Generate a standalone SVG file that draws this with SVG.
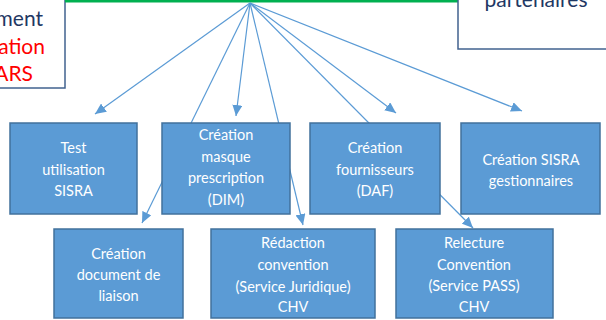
<svg xmlns="http://www.w3.org/2000/svg" width="606" height="320" viewBox="0 0 606 320">
<defs>
<marker id="ah" markerUnits="userSpaceOnUse" markerWidth="12" markerHeight="10" refX="11" refY="5" orient="auto">
<path d="M0,0 L11,5 L0,10 Z" fill="#5B9BD5"/>
</marker>
</defs>
<style>
.box{fill:#5B9BD5;stroke:#41719C;stroke-width:1.5}
.frame{fill:#FFFFFF;stroke:#41628F;stroke-width:1.5}
.t{font-family:Lato,"Liberation Sans",sans-serif;font-size:14.5px;fill:#FFFFFF;text-anchor:middle}
.big{font-family:Lato,"Liberation Sans",sans-serif;font-size:21px}
.conn{stroke:#5B9BD5;stroke-width:1.2;fill:none}
</style>
<rect x="0" y="0" width="606" height="320" fill="#FFFFFF"/>
<g id="top-left">
<rect class="frame" x="-10" y="-10" width="75" height="98"/>
<text class="big" x="43" y="26" text-anchor="end" fill="#1F3864">ment</text>
<text class="big" x="45" y="54" text-anchor="end" fill="#FF0000">ation</text>
<text class="big" x="33" y="81" text-anchor="end" fill="#FF0000">ARS</text>
</g>
<g id="top-center">
<line x1="65" y1="1" x2="458" y2="1" stroke="#00B050" stroke-width="3"/>
</g>
<g id="top-right">
<rect class="frame" x="458" y="-10" width="160" height="59"/>
<text class="big" x="536" y="7" text-anchor="middle" fill="#1F3864">partenaires</text>
</g>
<g id="connectors">
<line class="conn" x1="250" y1="3" x2="95" y2="114" marker-end="url(#ah)"/>
<line class="conn" x1="250" y1="3" x2="236" y2="116" marker-end="url(#ah)"/>
<line class="conn" x1="250" y1="3" x2="142" y2="223" marker-end="url(#ah)"/>
<line class="conn" x1="250" y1="3" x2="303" y2="225" marker-end="url(#ah)"/>
<line class="conn" x1="250" y1="3" x2="396" y2="113" marker-end="url(#ah)"/>
<line class="conn" x1="250" y1="3" x2="473" y2="228" marker-end="url(#ah)"/>
<line class="conn" x1="250" y1="3" x2="522" y2="111" marker-end="url(#ah)"/>
</g>
<g id="test-sisra">
<rect class="box" x="10" y="123" width="127" height="91"/>
<text class="t" x="73.5" y="153">Test</text>
<text class="t" x="73.5" y="175">utilisation</text>
<text class="t" x="73.5" y="196">SISRA</text>
</g>
<g id="masque-prescription">
<rect class="box" x="162" y="123" width="128" height="91"/>
<text class="t" x="226" y="140">Création</text>
<text class="t" x="226" y="161.5">masque</text>
<text class="t" x="226" y="183">prescription</text>
<text class="t" x="226" y="205">(DIM)</text>
</g>
<g id="fournisseurs">
<rect class="box" x="310" y="123" width="130" height="91"/>
<text class="t" x="375" y="153">Création</text>
<text class="t" x="375" y="175">fournisseurs</text>
<text class="t" x="375" y="196">(DAF)</text>
</g>
<g id="sisra-gestionnaires">
<rect class="box" x="461" y="123" width="139" height="91"/>
<text class="t" x="531" y="165">Création SISRA</text>
<text class="t" x="531" y="186">gestionnaires</text>
</g>
<g id="document-liaison">
<rect class="box" x="54" y="229" width="129" height="89"/>
<text class="t" x="118.5" y="259">Création</text>
<text class="t" x="118.5" y="280">document de</text>
<text class="t" x="118.5" y="301">liaison</text>
</g>
<g id="redaction-convention">
<rect class="box" x="211" y="229" width="164" height="89"/>
<text class="t" x="293" y="248">Rédaction</text>
<text class="t" x="293" y="270">convention</text>
<text class="t" x="293" y="292">(Service Juridique)</text>
<text class="t" x="293" y="312">CHV</text>
</g>
<g id="relecture-convention">
<rect class="box" x="396" y="229" width="157" height="89"/>
<text class="t" x="474" y="248">Relecture</text>
<text class="t" x="474" y="270">Convention</text>
<text class="t" x="474" y="291">(Service PASS)</text>
<text class="t" x="474" y="312">CHV</text>
</g>
</svg>
